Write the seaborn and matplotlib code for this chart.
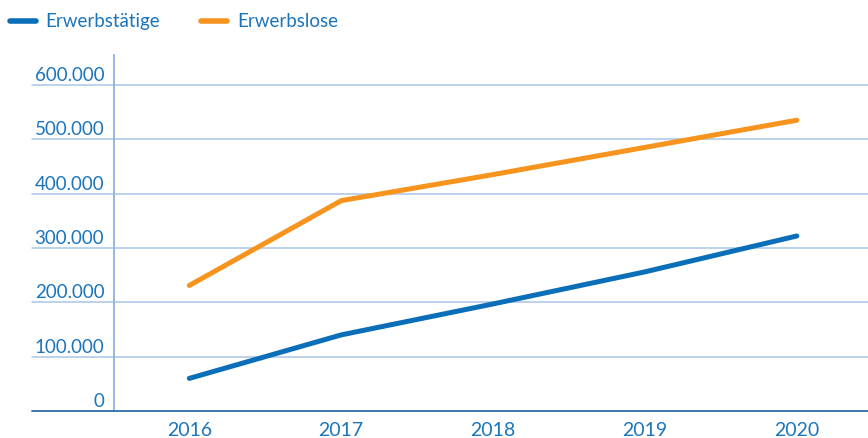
import matplotlib
matplotlib.use("Agg")
import matplotlib.pyplot as plt
import matplotlib.transforms as mtransforms
from matplotlib.lines import Line2D
import seaborn as sns
import pandas as pd

years = ["2016", "2017", "2018", "2019", "2020"]
erwerbstaetige = [60000, 140000, 197000, 256000, 322000]
erwerbslose = [231000, 387000, 435000, 485000, 535000]
series_names = ["Erwerbstätige", "Erwerbslose"]
y_ticks = [0, 100000, 200000, 300000, 400000, 500000, 600000]
y_tick_labels = ["0", "100.000", "200.000", "300.000", "400.000", "500.000", "600.000"]

BLUE = "#0a6fb8"
ORANGE = "#f7941d"
TEXT = "#1b75bc"
GRID = "#a9c6e6"
AXIS_V = "#8db3de"
AXIS_B = "#2c6ea8"

df = pd.DataFrame({
    "Jahr": years * 2,
    "Wert": erwerbstaetige + erwerbslose,
    "Reihe": [series_names[0]] * len(years) + [series_names[1]] * len(years),
})

sns.set_style("white")
plt.rcParams["font.family"] = ["Lato", "DejaVu Sans"]

W, H = 868, 438
fig = plt.figure(figsize=(W / 100, H / 100), dpi=100)
left_px, right_px, top_px, bottom_px = 114, 868, 55, 411
ax = fig.add_axes([left_px / W, (H - bottom_px) / H, (right_px - left_px) / W, (bottom_px - top_px) / H])

sns.lineplot(data=df, x="Jahr", y="Wert", hue="Reihe", palette=[BLUE, ORANGE],
             linewidth=3.6, ax=ax, legend=False, sort=False)
for ln in ax.get_lines():
    ln.set_solid_capstyle("round")
    ln.set_solid_joinstyle("round")

ax.set_xlim(-0.496, 4.469)
ax.set_ylim(0, 655000)
ax.set_xlabel("")
ax.set_ylabel("")

for s in ["top", "right", "bottom"]:
    ax.spines[s].set_visible(False)
ax.spines["left"].set_color(AXIS_V)
ax.spines["left"].set_linewidth(1.3)

# gridlines extending left of the axis
ext = -(left_px - 32) / (right_px - left_px)
trans = ax.get_yaxis_transform()
for v in y_ticks[1:]:
    ax.plot([ext, 1], [v, v], transform=trans, color=GRID, lw=1.1, clip_on=False, zorder=0)
ax.plot([ext, 1], [0, 0], transform=trans, color=AXIS_B, lw=1.3, clip_on=False, zorder=3)

ax.set_yticks(y_ticks)
ax.set_yticklabels(y_tick_labels)
ax.tick_params(axis="y", length=0, pad=7, labelsize=13.5, labelcolor=TEXT)
off = mtransforms.ScaledTranslation(0, 4 / 100, fig.dpi_scale_trans)
for lab in ax.get_yticklabels():
    lab.set_va("baseline")
    lab.set_transform(lab.get_transform() + off)

ax.tick_params(axis="x", length=0, pad=8, labelsize=14, labelcolor=TEXT)

handles = [Line2D([], [], color=BLUE, lw=4), Line2D([], [], color=ORANGE, lw=4)]
leg = fig.legend(handles, series_names, loc="upper left", bbox_to_anchor=(-0.004, 1.0),
                 ncol=2, frameon=False, fontsize=13.5, handlelength=1.4, handletextpad=0.5,
                 columnspacing=2.2, borderaxespad=0.3)
for t in leg.get_texts():
    t.set_color(TEXT)

fig.savefig("out.png", dpi=100)
